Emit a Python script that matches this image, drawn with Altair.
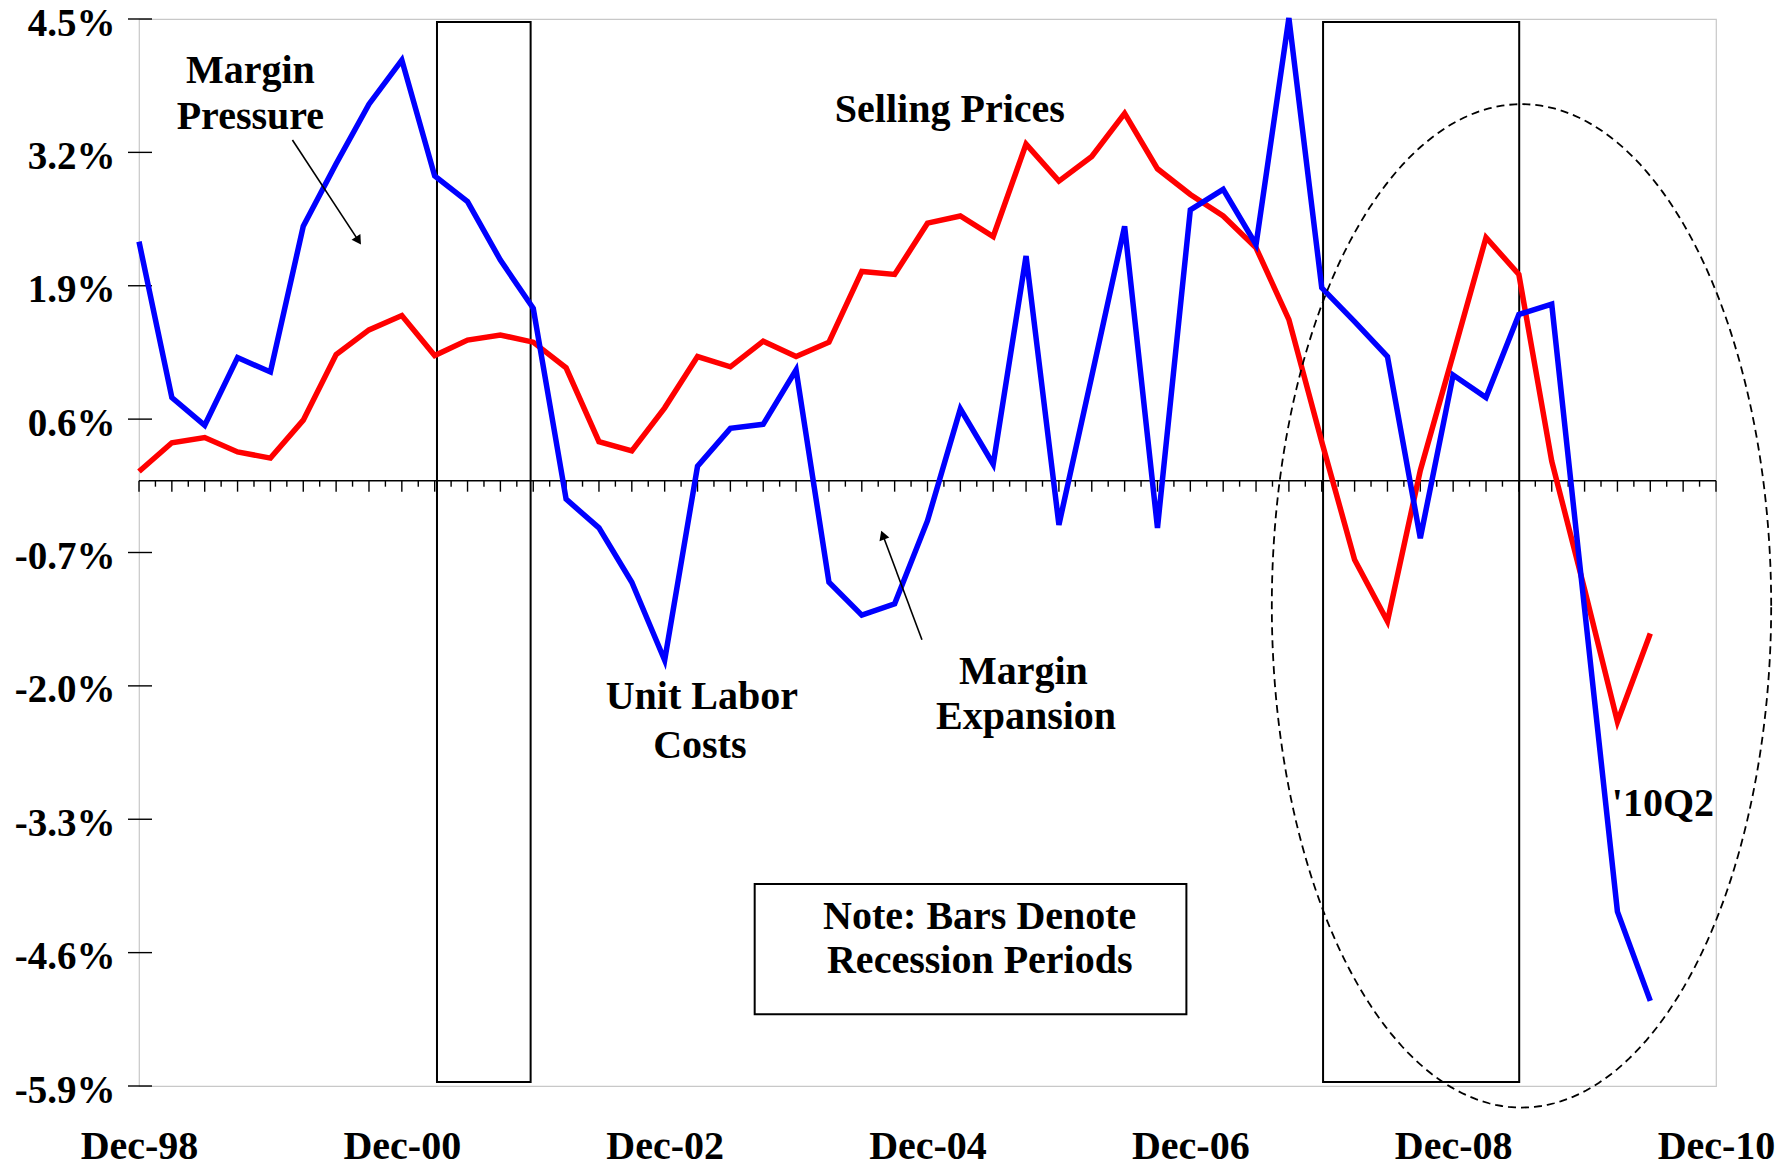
import altair as alt
import pandas as pd
import numpy as np

# ---------------- data (quarterly, Dec-98 = 0 ... Jun-10 = 46) ----------------
quarter_index = list(range(47))
unit_labor_costs = [2.33, 0.81, 0.54, 1.20, 1.06, 2.48, 3.09, 3.67, 4.10, 2.97, 2.72, 2.15, 1.68,
                    -0.18, -0.46, -0.99, -1.75, 0.14, 0.51, 0.55, 1.08, -0.99, -1.31, -1.20,
                    -0.39, 0.70, 0.16, 2.19, -0.43, 1.02, 2.48, -0.46, 2.64, 2.84, 2.30,
                    4.51, 1.88, 1.55, 1.21, -0.56, 1.03, 0.81, 1.62, 1.72, -1.25, -4.20, -5.07]
selling_prices = [0.09, 0.37, 0.42, 0.28, 0.22, 0.59, 1.23, 1.47, 1.61, 1.22, 1.37, 1.42, 1.35,
                  1.10, 0.38, 0.29, 0.71, 1.21, 1.11, 1.36, 1.21, 1.35, 2.04, 2.01,
                  2.51, 2.58, 2.38, 3.28, 2.92, 3.16, 3.58, 3.04, 2.79, 2.58, 2.27,
                  1.57, 0.38, -0.77, -1.37, 0.10, 1.23, 2.37, 2.01, 0.19, -1.06, -2.35, -1.49]

x_tick_positions = [0, 8, 16, 24, 32, 40, 48]
x_tick_labels = ["Dec-98", "Dec-00", "Dec-02", "Dec-04", "Dec-06", "Dec-08", "Dec-10"]
y_tick_values = [-5.9, -4.6, -3.3, -2.0, -0.7, 0.6, 1.9, 3.2, 4.5]

recession_start = [9.07, 36.04]
recession_end = [11.92, 42.01]
recession_top = [4.47, 4.47]
recession_bottom = [-5.86, -5.86]

# annotation texts (anchor in quarter index / percent, baseline)
label_text = ["Margin", "Pressure", "Selling Prices", "Unit Labor", "Costs", "Margin", "Expansion",
              "Note: Bars Denote", "Recession Periods"]
label_q = [3.39, 3.39, 24.68, 17.13, 17.07, 26.92, 27.0, 25.59, 25.59]
label_v = [3.88, 3.43, 3.50, -2.23, -2.70, -1.98, -2.42, -4.37, -4.80]
last_label = ["'10Q2"]
last_label_q = [44.83]
last_label_v = [-3.27]

note_box_q = [18.74]
note_box_q2 = [31.88]
note_box_v = [-3.93]
note_box_v2 = [-5.20]

arrow_q = [4.67, 23.83]
arrow_v = [3.32, -1.55]
arrow_q2 = [6.68, 22.64]
arrow_v2 = [2.34, -0.53]
arrow_angle = [146.8, 339.6]

ellipse_center = (42.08, -1.22)
ellipse_radius = (7.60, 4.89)

# ---------------- helpers ----------------
FONT = "Liberation Serif"
W, H = 1577, 1067
xs = alt.Scale(domain=[0, 48], nice=False, zero=False)
ys = alt.Scale(domain=[-5.9, 4.5], nice=False, zero=False)

label_array = "[" + ",".join("'" + s + "'" for s in x_tick_labels) + "]"
xaxis = alt.Axis(values=x_tick_positions, labelExpr=label_array + "[round(datum.value/8)]",
                 title=None, domain=False, ticks=False, tickSize=0, grid=False,
                 labelFont=FONT, labelFontSize=40, labelFontWeight="bold", labelColor="black",
                 labelPadding=40, labelFlush=False, labelOverlap=False)
yaxis = alt.Axis(values=y_tick_values,
                 labelExpr="(datum.value < 0 ? '-' : '') + format(abs(datum.value), '.1f') + '%'",
                 title=None, domain=False, ticks=False, tickSize=0, grid=False,
                 labelFont=FONT, labelFontSize=39, labelFontWeight="bold", labelColor="black",
                 labelPadding=24, labelOffset=4, labelFlush=False, labelOverlap=False,
                 labelBaseline="middle")


def X(f):
    return alt.X(f, type="quantitative", scale=xs, axis=xaxis)


def Y(f):
    return alt.Y(f, type="quantitative", scale=ys, axis=yaxis)


# ---------------- layers ----------------
rec_df = pd.DataFrame({"q": recession_start, "q2": recession_end, "v": recession_top, "v2": recession_bottom})
recession = alt.Chart(rec_df).mark_rect(fill="white", fillOpacity=0, stroke="black", strokeWidth=2).encode(
    x=X("q"), x2="q2", y=Y("v"), y2="v2")

note_df = pd.DataFrame({"q": note_box_q, "q2": note_box_q2, "v": note_box_v, "v2": note_box_v2})
note_box = alt.Chart(note_df).mark_rect(fill="white", fillOpacity=0, stroke="black", strokeWidth=2).encode(
    x=X("q"), x2="q2", y=Y("v"), y2="v2")

zero_df = pd.DataFrame({"q": [0], "q2": [48], "v": [0.0]})
zero_line = alt.Chart(zero_df).mark_rule(color="black", strokeWidth=1.5).encode(
    x=X("q"), x2="q2", y=Y("v"))

major_df = pd.DataFrame({"q": list(range(49)), "v": [0.0] * 49})
minor_df = pd.DataFrame({"q": [i + 0.5 for i in range(48)], "v": [0.0] * 48})
major_ticks = alt.Chart(major_df).mark_tick(orient="vertical", size=11, thickness=1.4,
                                            color="black", yOffset=5.5, opacity=1).encode(x=X("q"), y=Y("v"))
minor_ticks = alt.Chart(minor_df).mark_tick(orient="vertical", size=6, thickness=1.4,
                                            color="black", yOffset=3, opacity=1).encode(x=X("q"), y=Y("v"))

ytick_df = pd.DataFrame({"v": y_tick_values})
y_ticks = alt.Chart(ytick_df).mark_rule(color="black", strokeWidth=1.4).encode(
    y=Y("v"), x=alt.value(-11), x2=alt.value(13))

red_df = pd.DataFrame({"q": quarter_index, "v": selling_prices})
blue_df = pd.DataFrame({"q": quarter_index, "v": unit_labor_costs})
red_line = alt.Chart(red_df).mark_line(color="#ff0000", strokeWidth=5.5, strokeJoin="miter").encode(
    x=X("q"), y=Y("v"))
blue_line = alt.Chart(blue_df).mark_line(color="#0000ff", strokeWidth=5.5, strokeJoin="miter").encode(
    x=X("q"), y=Y("v"))

t = np.linspace(0, 2 * np.pi, 241)
ell_df = pd.DataFrame({"i": np.arange(len(t)),
                       "q": ellipse_center[0] + ellipse_radius[0] * np.cos(t),
                       "v": ellipse_center[1] + ellipse_radius[1] * np.sin(t)})
ellipse = alt.Chart(ell_df).mark_line(color="black", strokeWidth=1.8, strokeDash=[8, 5], clip=False).encode(
    x=X("q"), y=Y("v"), order=alt.Order("i:Q"))

arrow_df = pd.DataFrame({"q": arrow_q, "v": arrow_v, "q2": arrow_q2, "v2": arrow_v2, "ang": arrow_angle})
arrow_lines = alt.Chart(arrow_df).mark_rule(color="black", strokeWidth=1.6).encode(
    x=X("q"), y=Y("v"), x2="q2", y2="v2")
arrow_heads = alt.Chart(arrow_df).mark_point(shape="triangle-up", filled=True, size=110,
                                             color="black", opacity=1).encode(
    x=X("q2"), y=Y("v2"), angle=alt.Angle("ang:Q", scale=None))

lab_df = pd.DataFrame({"q": label_q, "v": label_v, "text": label_text})
labels = alt.Chart(lab_df).mark_text(font=FONT, fontSize=40, fontWeight="bold", color="black",
                                     align="center", baseline="alphabetic").encode(
    x=X("q"), y=Y("v"), text="text:N")
last_df = pd.DataFrame({"q": last_label_q, "v": last_label_v, "text": last_label})
last_lab = alt.Chart(last_df).mark_text(font=FONT, fontSize=40, fontWeight="bold", color="black",
                                        align="left", baseline="alphabetic").encode(
    x=X("q"), y=Y("v"), text="text:N")

chart = alt.layer(
    recession, note_box, zero_line, major_ticks, minor_ticks, y_ticks,
    red_line, blue_line, ellipse, arrow_lines, arrow_heads, labels, last_lab
).properties(
    width=W, height=H,
    autosize=alt.AutoSizeParams(type="none"),
    padding={"left": 131, "top": 11, "right": 67, "bottom": 85},
    background="white",
).configure_view(stroke="#c8c8c8", strokeWidth=1.2)

chart.save("out.html", embed_options={"renderer": "svg", "actions": False})
